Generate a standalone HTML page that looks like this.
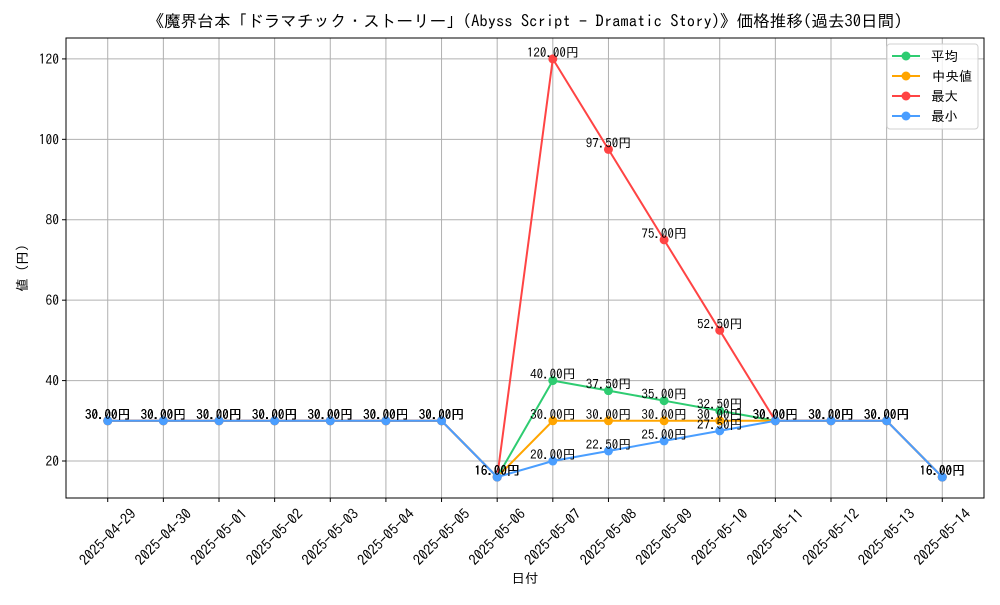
<!DOCTYPE html>
<html><head><meta charset="utf-8"><style>
body{margin:0;background:#fff}
svg text{font-family:"IPAGothic","Liberation Sans","Noto Sans CJK JP",sans-serif;fill:#000}
</style></head><body>
<svg id="c" width="1000" height="600" xmlns="http://www.w3.org/2000/svg"></svg>
<script>
const dates=["2025-04-29","2025-04-30","2025-05-01","2025-05-02","2025-05-03","2025-05-04","2025-05-05","2025-05-06","2025-05-07","2025-05-08","2025-05-09","2025-05-10","2025-05-11","2025-05-12","2025-05-13","2025-05-14"];
const meanVals=[30,30,30,30,30,30,30,16,40,37.5,35,32.5,30,30,30,16];
const medianVals=[30,30,30,30,30,30,30,16,30,30,30,30,30,30,30,16];
const maxVals=[30,30,30,30,30,30,30,16,120,97.5,75,52.5,30,30,30,16];
const minVals=[30,30,30,30,30,30,30,16,20,22.5,25,27.5,30,30,30,16];
const yTicks=[20,40,60,80,100,120];
const seriesNames=["平均","中央値","最大","最小"];
const seriesColors=["#2ecc71","#ffa500","#ff4444","#4a9eff"];

const L=66,R=984,T=38,B=498,yMin=10.8,yMax=125.2;
const FS=13.5;
const sx=i=>L+(i+0.75)*(R-L)/(dates.length-1+1.5);
const sy=v=>B-(v-yMin)*(B-T)/(yMax-yMin);
const svg=document.getElementById('c');
const NS="http://www.w3.org/2000/svg";
function mk(tag,at,parent){const e=document.createElementNS(NS,tag);for(const k in at)e.setAttribute(k,at[k]);(parent||svg).appendChild(e);return e;}

dates.forEach((d,i)=>{const g=mk('line',{x1:sx(i),x2:sx(i),y1:T,y2:B,stroke:'#b0b0b0','stroke-width':1});

});
yTicks.forEach(v=>{const g=mk('line',{x1:L,x2:R,y1:sy(v),y2:sy(v),stroke:'#b0b0b0','stroke-width':1});

});

dates.forEach((d,i)=>{mk('line',{x1:sx(i),x2:sx(i),y1:B,y2:B+4,stroke:'#000'});
const t=mk('text',{x:0,y:5,'font-size':14.5,'text-anchor':'middle',transform:`translate(${sx(i)},${537}) rotate(-45)`});t.textContent=d;

});
yTicks.forEach(v=>{mk('line',{x1:L-4,x2:L,y1:sy(v),y2:sy(v),stroke:'#000'});
const t=mk('text',{x:L-7,y:sy(v)+5,'font-size':FS,'text-anchor':'end'});t.textContent=v;

});

const allSeries=[meanVals,medianVals,maxVals,minVals];
allSeries.forEach((vals,si)=>{
 const g=mk('g',{});
 
 
 mk('polyline',{points:vals.map((v,i)=>sx(i)+','+sy(v)).join(' '),fill:'none',stroke:seriesColors[si],'stroke-width':2},g);
 vals.forEach((v,i)=>{const c=mk('circle',{cx:sx(i),cy:sy(v),r:4.5,fill:seriesColors[si]},g);
 
 });
 vals.forEach((v,i)=>{const t=mk('text',{x:sx(i),y:sy(v)-2,'font-size':13,'text-anchor':'middle'},g);t.textContent=v.toFixed(2)+'円';
 
 });
});

mk('rect',{x:L,y:T,width:R-L,height:B-T,fill:'none',stroke:'#000','stroke-width':1});

let t=mk('text',{x:525,y:27,'font-size':16.6,'text-anchor':'middle'});t.textContent='《魔界台本「ドラマチック・ストーリー」(Abyss Script - Dramatic Story)》価格推移(過去30日間)';


t=mk('text',{x:525,y:583,'font-size':FS,'text-anchor':'middle'});t.textContent='日付';


t=mk('text',{x:0,y:0,'font-size':FS,'text-anchor':'middle',transform:'translate(27,268) rotate(-90)'});t.textContent='値 (円)';



const lg=mk('g',{});


mk('rect',{x:887,y:44,width:91,height:85,rx:3,fill:'#fff','fill-opacity':0.8,stroke:'#d0d0d0'},lg);
seriesNames.forEach((n,i)=>{const y=56+i*20;
 const e=mk('g',{},lg);
 
 
 mk('line',{x1:892,x2:920,y1:y,y2:y,stroke:seriesColors[i],'stroke-width':2},e);
 mk('circle',{cx:906,cy:y,r:4.5,fill:seriesColors[i]},e);
 const tx=mk('text',{x:i==1?932:931,y:y+5,'font-size':FS},e);tx.textContent=(i==1?' ':'')+n;});
</script>
</body></html>
